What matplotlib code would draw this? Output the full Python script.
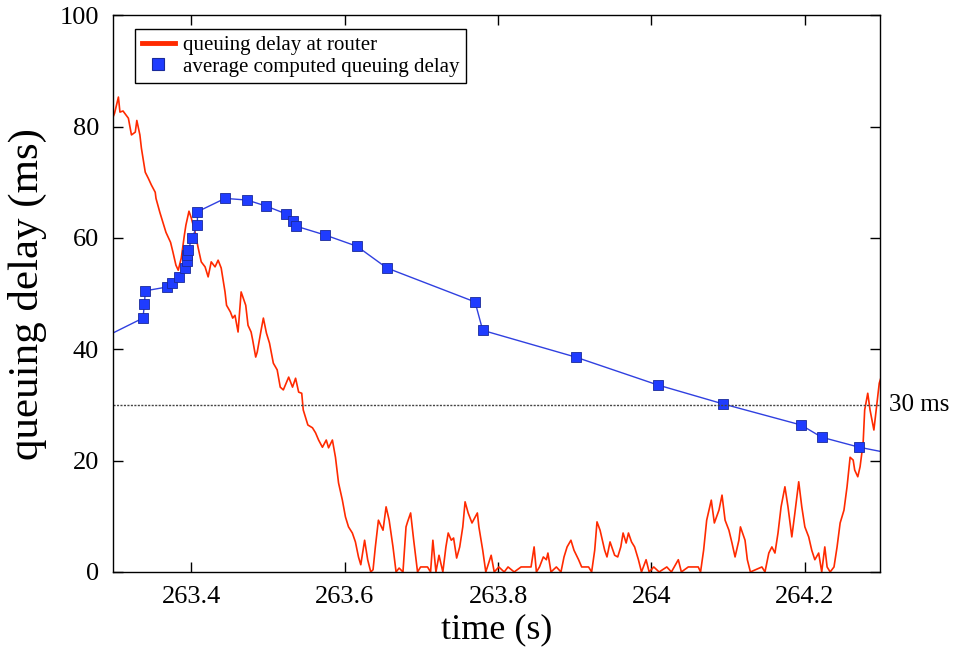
import numpy as np
import matplotlib.pyplot as plt
from matplotlib.lines import Line2D

plt.rcParams['font.family'] = ['Liberation Serif', 'DejaVu Serif']

# queuing delay measured at router (ms)
t_router = [263.298, 263.300, 263.305, 263.307, 263.311, 263.318, 263.322, 263.327,
            263.329, 263.333, 263.335, 263.340, 263.344, 263.348, 263.353, 263.354,
            263.359, 263.363, 263.367, 263.373, 263.376, 263.380, 263.383, 263.387,
            263.391, 263.393, 263.397, 263.400, 263.405, 263.409, 263.413, 263.418,
            263.422, 263.426, 263.431, 263.435, 263.439, 263.444, 263.446, 263.451,
            263.454, 263.457, 263.461, 263.465, 263.471, 263.474, 263.478, 263.480,
            263.484, 263.486, 263.491, 263.494, 263.498, 263.502, 263.507, 263.512,
            263.516, 263.520, 263.527, 263.532, 263.536, 263.540, 263.544, 263.546,
            263.552, 263.558, 263.562, 263.566, 263.571, 263.576, 263.579, 263.584,
            263.588, 263.592, 263.597, 263.601, 263.605, 263.610, 263.614, 263.618,
            263.621, 263.626, 263.630, 263.634, 263.637, 263.640, 263.644, 263.650,
            263.654, 263.658, 263.663, 263.667, 263.671, 263.676, 263.680, 263.682,
            263.686, 263.690, 263.695, 263.699, 263.708, 263.712, 263.715, 263.719,
            263.723, 263.728, 263.732, 263.735, 263.739, 263.742, 263.746, 263.750,
            263.754, 263.757, 263.761, 263.766, 263.773, 263.775, 263.780, 263.784,
            263.791, 263.795, 263.801, 263.808, 263.813, 263.821, 263.830, 263.843,
            263.847, 263.850, 263.854, 263.859, 263.863, 263.865, 263.869, 263.876,
            263.882, 263.886, 263.890, 263.895, 263.899, 263.905, 263.909, 263.918,
            263.922, 263.926, 263.929, 263.933, 263.939, 263.942, 263.946, 263.952,
            263.956, 263.960, 263.963, 263.967, 263.970, 263.974, 263.978, 263.983,
            263.987, 263.993, 263.997, 264.003, 264.010, 264.020, 264.026, 264.035,
            264.039, 264.048, 264.061, 264.064, 264.068, 264.072, 264.076, 264.078,
            264.082, 264.088, 264.092, 264.096, 264.101, 264.105, 264.109, 264.114,
            264.116, 264.122, 264.125, 264.129, 264.144, 264.148, 264.153, 264.157,
            264.161, 264.165, 264.169, 264.174, 264.178, 264.183, 264.187, 264.192,
            264.196, 264.200, 264.205, 264.209, 264.213, 264.218, 264.222, 264.226,
            264.229, 264.233, 264.238, 264.242, 264.246, 264.251, 264.255, 264.259,
            264.263, 264.265, 264.269, 264.272, 264.276, 264.278, 264.282, 264.285,
            264.290, 264.293, 264.297, 264.299]
d_router = [81.7, 82.4, 85.3, 82.6, 82.8, 81.5, 78.5, 79.0,
            81.1, 78.5, 76.1, 71.8, 70.7, 69.5, 68.2, 67.1,
            64.6, 62.8, 61.0, 59.2, 57.5, 55.1, 54.2, 56.4,
            60.5, 62.3, 64.8, 63.6, 61.0, 58.2, 55.7, 54.8,
            53.0, 55.7, 54.8, 56.0, 54.6, 50.3, 47.9, 46.7,
            45.6, 46.1, 43.1, 50.3, 47.9, 44.3, 43.1, 41.7,
            38.6, 39.5, 43.4, 45.6, 42.9, 41.1, 37.5, 36.3,
            33.2, 32.7, 35.0, 33.2, 34.8, 32.3, 32.1, 29.1,
            26.4, 25.9, 25.0, 23.7, 22.4, 23.7, 22.3, 23.7,
            20.6, 16.0, 12.9, 9.9, 8.1, 7.0, 5.4, 2.7,
            1.3, 5.7, 2.2, 0.0, 0.4, 4.5, 9.3, 7.5,
            11.7, 9.3, 4.5, 0.0, 0.7, 0.0, 8.1, 9.0,
            10.6, 5.7, 0.0, 0.9, 0.9, 0.0, 5.7, 0.0,
            3.0, 0.0, 4.5, 7.0, 5.7, 6.1, 2.5, 4.5,
            8.1, 12.6, 10.6, 8.8, 10.6, 8.1, 3.9, 0.0,
            3.0, 0.0, 0.9, 0.0, 0.9, 0.0, 0.9, 0.9,
            4.5, 0.0, 0.9, 2.7, 2.2, 3.4, 0.0, 0.9,
            0.0, 2.7, 4.5, 5.7, 3.9, 2.2, 0.9, 0.9,
            0.0, 3.9, 9.0, 7.5, 3.9, 2.7, 5.4, 3.0,
            2.7, 4.5, 7.0, 5.2, 7.0, 5.4, 4.5, 2.2,
            0.0, 2.2, 0.0, 0.9, 0.0, 0.9, 0.0, 2.2,
            0.0, 0.9, 0.9, 0.0, 3.9, 9.3, 11.7, 12.9,
            8.8, 11.1, 13.8, 9.3, 7.5, 5.2, 2.7, 5.7,
            8.1, 5.7, 2.2, 0.0, 0.9, 0.0, 3.4, 4.5,
            3.4, 7.0, 11.7, 15.3, 11.7, 6.3, 10.6, 16.2,
            11.7, 8.1, 6.3, 3.9, 2.2, 3.4, 0.0, 4.5,
            0.9, 0.0, 0.9, 4.5, 8.8, 11.1, 15.3, 20.6,
            20.1, 18.3, 17.1, 18.9, 23.2, 29.1, 32.1, 29.1,
            25.5, 29.1, 33.9, 34.8]

# average queuing delay computed by the sender (ms)
t_avg = [263.280, 263.337, 263.339, 263.340, 263.369, 263.375, 263.384, 263.392,
         263.394, 263.395, 263.396, 263.401, 263.408, 263.408, 263.444, 263.473,
         263.498, 263.524, 263.533, 263.537, 263.575, 263.616, 263.655, 263.770,
         263.780, 263.901, 264.008, 264.093, 264.195, 264.222, 264.271, 264.330]
d_avg = [41.7, 45.6, 48.2, 50.5, 51.2, 51.9, 53.0, 54.6,
         55.8, 57.0, 57.9, 59.9, 62.4, 64.7, 67.1, 66.8,
         65.7, 64.3, 63.0, 62.1, 60.5, 58.5, 54.6, 48.5,
         43.4, 38.6, 33.6, 30.2, 26.4, 24.2, 22.4, 20.8]

target = 30
xticks = [263.4, 263.6, 263.8, 264.0, 264.2]
xticklabels = ['263.4', '263.6', '263.8', '264', '264.2']
yticks = [0, 20, 40, 60, 80, 100]

red = '#ff2a00'
blue = '#1f3cff'

fig = plt.figure(figsize=(9.58, 6.62), dpi=100)
ax = fig.add_axes([0.118, 0.136, 0.8006, 0.841])

ax.plot(t_router, d_router, color=red, lw=1.2)
ax.plot(t_avg, d_avg, color='#3040e0', lw=1.0, marker='s', ms=7.5,
        mfc=blue, mec='#1a2a9a', mew=0.6)
ax.axhline(target, color='#444444', lw=1.0, ls=(0, (1.5, 1)))
ax.text(1.012, target, '30 ms', transform=ax.get_yaxis_transform(),
        ha='left', va='center', fontsize=18)

ax.set_xlim(263.298, 264.298)
ax.set_ylim(0, 100)
ax.set_xticks(xticks)
ax.set_xticklabels(xticklabels)
ax.set_yticks(yticks)
ax.tick_params(direction='in', length=7, width=1, top=True, right=True,
               labelsize=19, pad=10)
for s in ax.spines.values():
    s.set_linewidth(1)

ax.set_xlabel('time (s)', fontsize=26, labelpad=4)
ax.set_ylabel('queuing delay (ms)', fontsize=31, labelpad=9)

handles = [Line2D([], [], color=red, lw=3.5),
           Line2D([], [], color='none', marker='s', ms=9, mfc=blue, mec='#1a2a9a', mew=0.8)]
leg = ax.legend(handles, ['queuing delay at router', 'average computed queuing delay'],
                loc='upper left', bbox_to_anchor=(0.029, 0.975), borderaxespad=0,
                fontsize=15, fancybox=False, framealpha=1, edgecolor='black',
                handlelength=1.6, handletextpad=0.4, labelspacing=0.1, borderpad=0.3)
leg.get_frame().set_linewidth(1)

fig.savefig('out.png', dpi=100)
